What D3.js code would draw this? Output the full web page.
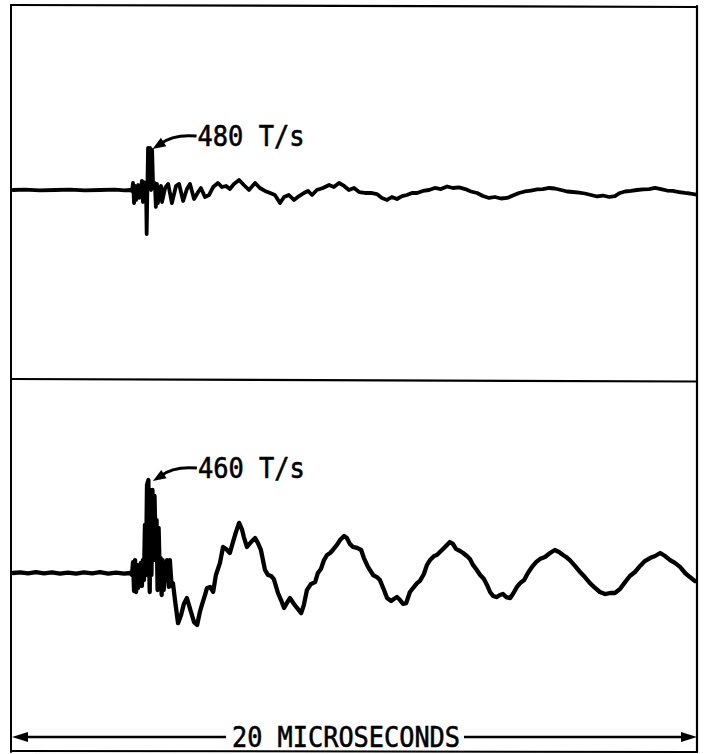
<!DOCTYPE html>
<html>
<head>
<meta charset="utf-8">
<script src="https://cdn.jsdelivr.net/npm/d3@7"></script>
<style>
  html, body { margin: 0; padding: 0; background: #fff; }
  svg { display: block; }
  .lbl { font-family: "DejaVu Sans Mono", monospace; fill: #000; stroke: #000; stroke-width: 0.6px; }
</style>
</head>
<body>
<svg id="chart" width="706" height="754"></svg>
<script>
// Oscilloscope records of dB/dt (T/s) versus time, 20 µs sweep.
// Upper trace: time (µs) and value (T/s)
const upperTime = [0, 0.35, 0.79, 1.23, 1.67, 2.11, 2.55, 2.99, 3.28, 3.43,
  3.49, 3.52, 3.55, 3.58, 3.61, 3.64, 3.67, 3.70, 3.72, 3.75, 3.78, 3.81, 3.84, 3.87, 3.90,
  3.92, 3.94, 3.96, 3.99, 4.02, 4.05, 4.08, 4.11, 4.16, 4.19, 4.22, 4.25, 4.28, 4.34, 4.37,
  4.46, 4.55, 4.66, 4.78, 4.87, 4.99, 5.10, 5.19, 5.31, 5.43, 5.51, 5.63, 5.75, 5.87, 6.01,
  6.13, 6.25, 6.36, 6.48, 6.63, 6.77, 6.92, 7.10, 7.24, 7.39, 7.54, 7.68, 7.83, 7.95, 8.09,
  8.24, 8.39, 8.53, 8.65, 8.77, 8.91, 9.09, 9.27, 9.41, 9.56, 9.71, 9.85, 10.00, 10.15, 10.32,
  10.50, 10.67, 10.82, 10.97, 11.11, 11.26, 11.41, 11.55, 11.70, 11.85, 12.02, 12.20, 12.37,
  12.55, 12.73, 12.90, 13.08, 13.26, 13.43, 13.61, 13.78, 13.96, 14.13, 14.31, 14.49, 14.66,
  14.84, 15.01, 15.19, 15.37, 15.54, 15.72, 15.89, 16.07, 16.25, 16.42, 16.60, 16.77, 16.95,
  17.13, 17.30, 17.48, 17.65, 17.80, 17.95, 18.12, 18.30, 18.48, 18.65, 18.83, 19.00, 19.18,
  19.35, 19.53, 19.71, 19.85, 20.00];
const upperValue = [0, 4, -4, 0, 4, -4, 0, 4, -4, 0,
  -11, 80, -149, 46, -114, 0, 57, -91, 11, -34, 103, -137, 91, -114, 57,
  -503, 0, 480, 171, 480, 0, 457, 23, 80, -194, 69, -149, 0, 46, -137,
  23, 69, -149, 46, 69, -126, 11, 69, -103, -23, 23, -80, -57, 34, 80,
  34, 46, 11, 69, 114, 57, 0, 80, 23, -11, -34, -57, -149, -80, -57,
  -114, -69, -34, -11, -57, 0, 23, 57, 34, 80, 46, 0, 23, -23, -34,
  -34, -46, -91, -114, -80, -103, -69, -57, -34, -34, -11, 0, 23,
  11, 40, 23, 29, 11, -17, -34, -69, -91, -80, -97, -91, -63,
  -34, -17, -6, 6, 11, 23, 17, 0, -17, -23, -29, -40, -57,
  -74, -63, -80, -69, -34, -17, -11, 0, 6, 11, 23, 11, -6,
  -11, -23, -34, -40, -51];

// Lower trace: time (µs) and value (T/s)
const lowerTime = [0, 0.21, 0.44, 0.67, 0.91, 1.14, 1.38, 1.61, 1.85, 2.08, 2.32, 2.55, 2.79,
  3.02, 3.26, 3.43,
  3.49, 3.52, 3.55, 3.58, 3.61, 3.64, 3.67, 3.70, 3.72, 3.75, 3.78, 3.81, 3.84, 3.87, 3.90,
  3.93, 3.97, 3.99, 4.01, 4.03, 4.06, 4.09, 4.12, 4.15, 4.18, 4.21, 4.24, 4.27, 4.30, 4.33,
  4.36, 4.39, 4.42, 4.46, 4.49, 4.52, 4.57, 4.60, 4.65, 4.69,
  4.75, 4.84, 4.93, 5.01, 5.10, 5.22, 5.31, 5.40, 5.48, 5.54, 5.63, 5.69, 5.78, 5.87, 5.95,
  6.07, 6.16, 6.25, 6.36, 6.45, 6.54, 6.63, 6.72, 6.77, 6.86, 6.98, 7.10, 7.18, 7.27, 7.39,
  7.48, 7.57, 7.65, 7.77, 7.86, 7.95, 8.03, 8.12, 8.24, 8.33, 8.45, 8.53, 8.62, 8.74, 8.86,
  8.94, 9.03, 9.12, 9.21, 9.30, 9.38, 9.50, 9.59, 9.71, 9.79, 9.88, 9.97, 10.09, 10.21, 10.29,
  10.41, 10.56, 10.67, 10.76, 10.88, 10.97, 11.09, 11.17, 11.26, 11.35, 11.44, 11.53, 11.64,
  11.76, 11.85, 11.93, 12.05, 12.14, 12.23, 12.35, 12.43, 12.55, 12.64, 12.73, 12.81, 12.90,
  12.99, 13.11, 13.20, 13.31, 13.40, 13.49, 13.58, 13.70, 13.81, 13.90, 13.99, 14.08, 14.19,
  14.28, 14.37, 14.46, 14.58, 14.66, 14.78, 14.87, 14.99, 15.10, 15.22, 15.34, 15.45, 15.60,
  15.75, 15.89, 16.01, 16.13, 16.22, 16.33, 16.48, 16.63, 16.77, 16.92, 17.07, 17.21, 17.36,
  17.51, 17.65, 17.80, 17.95, 18.09, 18.24, 18.39, 18.53, 18.68, 18.83, 18.98, 19.12, 19.27,
  19.41, 19.56, 19.71, 19.85, 20.00];
const lowerValue = [0, 3, -2, 4, -2, 3, -3, 2, -3, 3, -2, 4, -3,
  2, -3, 0,
  -10, 54, -89, 64, -94, 40, -74, 25, -50, 50, -64, 64, -35, 238, -10,
  436, 460, 64, -94, 411, -10, 411, 64, 381, 139, 262, -84, 223, 15, 74,
  -109, 64, -84, 40, -35, 64, -69, 64, -64, -50,
  -134, -248, -208, -153, -124, -193, -243, -257, -193, -158, -109, -74, -69, -94, -10,
  50, 129, 119, 99, 153, 203, 248, 213, 178, 129, 153, 173, 149, 114, 15,
  -10, -15, -30, -99, -134, -173, -149, -124, -153, -173, -198, -158, -84, -54, -45,
  0, 20, 64, 89, 99, 114, 139, 163, 183, 173, 144, 129, 124, 114, 74,
  30, -10, -20, -35, -84, -124, -139, -129, -119, -134, -153, -149, -94,
  -69, -50, -40, -5, 40, 64, 84, 89, 109, 124, 139, 153, 144,
  119, 109, 99, 84, 69, 40, 20, -10, -30, -59, -94, -114, -119,
  -109, -104, -119, -124, -104, -69, -50, -35, 0, 30, 54, 69, 79,
  99, 114, 104, 89, 79, 64, 35, 5, -20, -50, -74, -94, -104,
  -99, -99, -79, -45, -15, 5, 35, 59, 74, 84, 99, 84, 64,
  50, 30, 0, -20, -40];

const peakLabels = ["480 T/s", "460 T/s"];
const sweepLabel = "20 MICROSECONDS";
const sweepSpan = [0, 20];

const svg = d3.select("#chart");

// Shared time axis across both panels
const x = d3.scaleLinear().domain(sweepSpan).range([13, 695]);

// Each panel has its own gain; baseline sits near the panel middle
const panels = [
  { time: upperTime, value: upperValue, label: peakLabels[0],
    y: d3.scaleLinear().domain([-1600, 1600]).range([330, 50]), width: 3.8 },
  { time: lowerTime, value: lowerValue, label: peakLabels[1],
    y: d3.scaleLinear().domain([-700, 700]).range([714.5, 431.5]), width: 4.3 }
];

// Frame and panel divider
const frame = svg.append("g").attr("stroke", "#000").attr("fill", "none").attr("stroke-linecap", "round");
frame.append("line").attr("x1", 11).attr("y1", 5).attr("x2", 697).attr("y2", 7).attr("stroke-width", 2.2);
frame.append("line").attr("x1", 11).attr("y1", 379).attr("x2", 697).attr("y2", 381.5).attr("stroke-width", 2.2);
frame.append("line").attr("x1", 11).attr("y1", 751).attr("x2", 697).attr("y2", 752).attr("stroke-width", 2);
frame.append("line").attr("x1", 11).attr("y1", 5).attr("x2", 11).attr("y2", 752).attr("stroke-width", 2);
frame.append("line").attr("x1", 697).attr("y1", 6).attr("x2", 697).attr("y2", 752).attr("stroke-width", 2.2);

const line = (p) => d3.line()
  .x((d, i) => x(p.time[i]))
  .y((d) => p.y(d))
  .curve(d3.curveLinear);

panels.forEach((p) => {
  svg.append("path")
    .datum(p.value)
    .attr("d", line(p))
    .attr("fill", "none")
    .attr("stroke", "#000")
    .attr("stroke-width", p.width)
    .attr("stroke-linejoin", "round")
    .attr("stroke-linecap", "round");

  // Peak annotation: curved leader with arrowhead pointing at the maximum
  const iMax = d3.maxIndex(p.value);
  const tipX = x(p.time[iMax]) + 4.5;
  const tipY = p.y(p.value[iMax]) + 1;
  const tailX = tipX + 44;
  const tailY = tipY - 13;
  svg.append("path")
    .attr("d", `M${tailX},${tailY} Q${tipX + 20},${tailY - 2} ${tipX + 8},${tipY - 5}`)
    .attr("fill", "none").attr("stroke", "#000").attr("stroke-width", 3);
  // arrowhead
  const ang = Math.atan2(5, -8);
  const hl = 13, hw = 5;
  const bx = tipX - hl * Math.cos(ang), by = tipY - hl * Math.sin(ang);
  const nx = -Math.sin(ang), ny = Math.cos(ang);
  svg.append("path")
    .attr("d", `M${tipX},${tipY} L${bx + nx * hw},${by + ny * hw} L${bx - nx * hw},${by - ny * hw} Z`)
    .attr("fill", "#000");

  svg.append("text")
    .attr("class", "lbl")
    .attr("x", tailX + 1)
    .attr("y", tailY + 10)
    .attr("font-size", 28)
    .attr("textLength", 107)
    .attr("lengthAdjust", "spacingAndGlyphs")
    .text(p.label);
});

// Sweep-length dimension arrow along the bottom
const dimY = 737;
const dim = svg.append("g");
dim.append("line").attr("x1", x(sweepSpan[0]) + 6).attr("y1", dimY)
  .attr("x2", 226).attr("y2", dimY).attr("stroke", "#000").attr("stroke-width", 2.5);
dim.append("line").attr("x1", 464).attr("y1", dimY)
  .attr("x2", x(sweepSpan[1]) - 6).attr("y2", dimY).attr("stroke", "#000").attr("stroke-width", 2.5);
const lx = x(sweepSpan[0]) - 1, rx = x(sweepSpan[1]) + 2;
dim.append("path").attr("d", `M${lx},${dimY} L${lx + 16},${dimY - 5} L${lx + 16},${dimY + 5} Z`).attr("fill", "#000");
dim.append("path").attr("d", `M${rx},${dimY} L${rx - 16},${dimY - 5} L${rx - 16},${dimY + 5} Z`).attr("fill", "#000");
dim.append("text")
  .attr("class", "lbl")
  .attr("x", 232).attr("y", dimY + 10)
  .attr("font-size", 28)
  .attr("textLength", 228)
  .attr("lengthAdjust", "spacingAndGlyphs")
  .text(sweepLabel);
</script>
</body>
</html>
